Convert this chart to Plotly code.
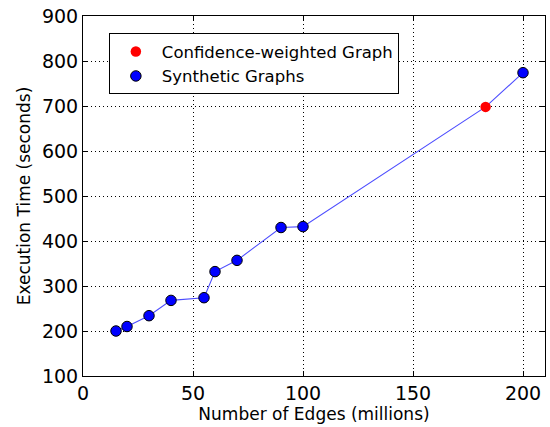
import plotly.graph_objects as go

# Data
synthetic_edges = [15, 20, 30, 40, 55, 60, 70, 90, 100, 200]
synthetic_time = [200, 210, 234, 268, 274, 332, 357, 430, 432, 774]
conf_edges = [183]
conf_time = [698]

# combined line through all points (sorted by x)
all_pts = sorted(zip(synthetic_edges + conf_edges, synthetic_time + conf_time))
line_x = [p[0] for p in all_pts]
line_y = [p[1] for p in all_pts]

FONT = "DejaVu Sans"

fig = go.Figure()
fig.add_trace(go.Scatter(
    x=line_x, y=line_y, mode="lines",
    line=dict(color="rgba(0,0,255,0.7)", width=1.1),
    showlegend=False, hoverinfo="skip"))
fig.add_trace(go.Scatter(
    x=conf_edges, y=conf_time, mode="markers",
    name="Confidence-weighted Graph",
    marker=dict(color="red", size=10.5, line=dict(color="red", width=0))))
fig.add_trace(go.Scatter(
    x=synthetic_edges, y=synthetic_time, mode="markers",
    name="Synthetic Graphs",
    marker=dict(color="blue", size=10.5, line=dict(color="black", width=1))))

axis_common = dict(
    showline=True, linecolor="black", linewidth=1, mirror="ticks",
    ticks="inside", ticklen=5, tickcolor="black",
    showgrid=True, gridcolor="black", griddash="1px,3px", gridwidth=1,
    zeroline=False, automargin=False,
    tickfont=dict(family=FONT, size=19, color="black"),
)

fig.update_xaxes(range=[0, 210], tickvals=[0, 50, 100, 150, 200],
                 title=dict(text="Number of Edges (millions)",
                            font=dict(family=FONT, size=17, color="black"),
                            standoff=2),
                 **axis_common)
fig.update_yaxes(range=[100, 900], tickvals=[100, 200, 300, 400, 500, 600, 700, 800, 900],
                 title=dict(text="Execution Time (seconds)",
                            font=dict(family=FONT, size=17, color="black"),
                            standoff=6),
                 **axis_common)

fig.update_layout(
    width=550, height=427,
    margin=dict(l=83, r=5, t=16, b=51),
    plot_bgcolor="white", paper_bgcolor="white",
    font=dict(family=FONT, color="black"),
    legend=dict(x=0.056, y=0.952, xanchor="left", yanchor="top",
                bgcolor="white", bordercolor="black", borderwidth=1,
                font=dict(family=FONT, size=16.5, color="black"),
                itemwidth=42, tracegroupgap=0),
)

fig.write_html("out.html", config={"displayModeBar": False},
               post_script="document.body.style.margin='0';document.body.style.padding='0';")
